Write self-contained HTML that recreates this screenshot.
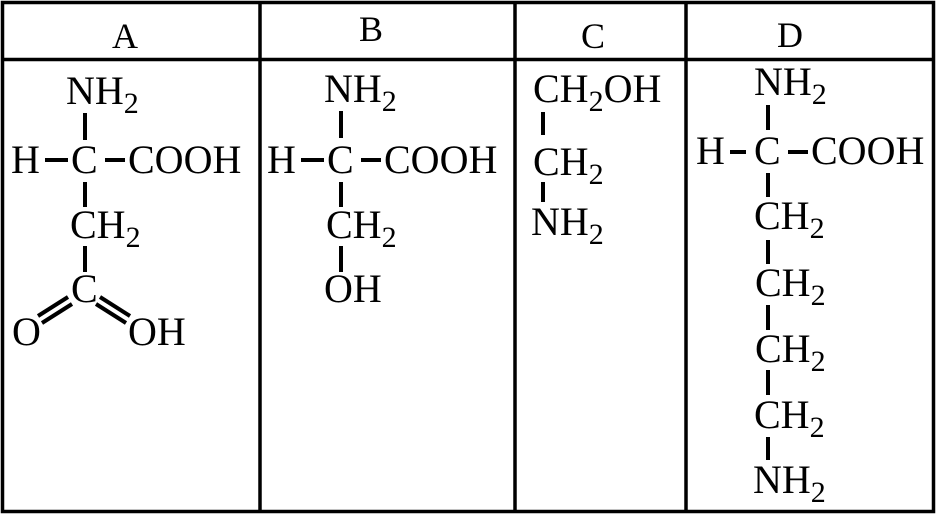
<!DOCTYPE html>
<html><head><meta charset="utf-8"><style>
html,body{margin:0;padding:0;background:#fff;}
svg{display:block;}
text{font-family:"Liberation Serif","Times New Roman",Times,"Nimbus Roman","Nimbus Roman No9 L",serif;font-size:40px;fill:#000;}
.h{font-size:36px;}
</style></head><body>
<svg width="936" height="514" viewBox="0 0 936 514" xmlns="http://www.w3.org/2000/svg" font-family="Liberation Serif, Times New Roman, serif">
<g stroke="#000" stroke-width="3.5" fill="none">
<rect x="2.5" y="2.5" width="931" height="509"/>
<line x1="2" y1="59.5" x2="934" y2="59.5"/>
<line x1="260" y1="2" x2="260" y2="512"/>
<line x1="515" y1="2" x2="515" y2="512"/>
<line x1="686" y1="2" x2="686" y2="512"/>
</g>
<text class="h" x="125" y="48" text-anchor="middle">A</text>
<text class="h" x="371" y="41" text-anchor="middle">B</text>
<text class="h" x="593" y="48" text-anchor="middle">C</text>
<text class="h" x="790" y="47" text-anchor="middle">D</text>

<g stroke="#000" stroke-width="4">
<line x1="85" y1="113" x2="85" y2="140"/>
<line x1="45" y1="160" x2="68" y2="160"/>
<line x1="105" y1="160" x2="125" y2="160"/>
<line x1="85" y1="182" x2="85" y2="207"/>
<line x1="85" y1="246" x2="85" y2="272"/>
<line x1="38" y1="316" x2="68" y2="297"/>
<line x1="42" y1="323" x2="72" y2="304"/>
<line x1="100" y1="297" x2="130" y2="316"/>
<line x1="96" y1="304" x2="126" y2="323"/>
<line x1="341" y1="111" x2="341" y2="138"/>
<line x1="301" y1="160" x2="324" y2="160"/>
<line x1="361" y1="160" x2="381" y2="160"/>
<line x1="341" y1="182" x2="341" y2="207"/>
<line x1="341" y1="246" x2="341" y2="272"/>
<line x1="543" y1="112" x2="543" y2="135"/>
<line x1="543" y1="182" x2="543" y2="202"/>
<line x1="768" y1="105" x2="768" y2="130"/>
<line x1="730" y1="152" x2="746" y2="152"/>
<line x1="788" y1="152" x2="808" y2="152"/>
<line x1="768" y1="173" x2="768" y2="197"/>
<line x1="768" y1="240" x2="768" y2="264"/>
<line x1="768" y1="305" x2="768" y2="330"/>
<line x1="768" y1="370" x2="768" y2="395"/>
<line x1="768" y1="437" x2="768" y2="460"/>
</g>

<text x="66" y="104">NH<tspan font-size="30" dy="9">2</tspan></text>
<text x="11" y="173">H</text>
<text x="71" y="173">C</text>
<text x="128" y="173">COOH</text>
<text x="70" y="238">CH<tspan font-size="30" dy="9">2</tspan></text>
<text x="71" y="302">C</text>
<text x="12" y="345">O</text>
<text x="128" y="345">OH</text>
<text x="324" y="102">NH<tspan font-size="30" dy="9">2</tspan></text>
<text x="267" y="173">H</text>
<text x="327" y="173">C</text>
<text x="384" y="173">COOH</text>
<text x="326" y="238">CH<tspan font-size="30" dy="9">2</tspan></text>
<text x="324" y="302">OH</text>
<text x="533" y="102">CH<tspan font-size="30" dy="9">2</tspan><tspan dy="-9">OH</tspan></text>
<text x="533" y="175">CH<tspan font-size="30" dy="9">2</tspan></text>
<text x="531" y="235">NH<tspan font-size="30" dy="9">2</tspan></text>
<text x="754" y="95">NH<tspan font-size="30" dy="9">2</tspan></text>
<text x="696" y="164">H</text>
<text x="754" y="164">C</text>
<text x="811" y="164">COOH</text>
<text x="754" y="229">CH<tspan font-size="30" dy="9">2</tspan></text>
<text x="755" y="296">CH<tspan font-size="30" dy="9">2</tspan></text>
<text x="755" y="362">CH<tspan font-size="30" dy="9">2</tspan></text>
<text x="754" y="428">CH<tspan font-size="30" dy="9">2</tspan></text>
<text x="753" y="493">NH<tspan font-size="30" dy="9">2</tspan></text>
</svg>
</body></html>
